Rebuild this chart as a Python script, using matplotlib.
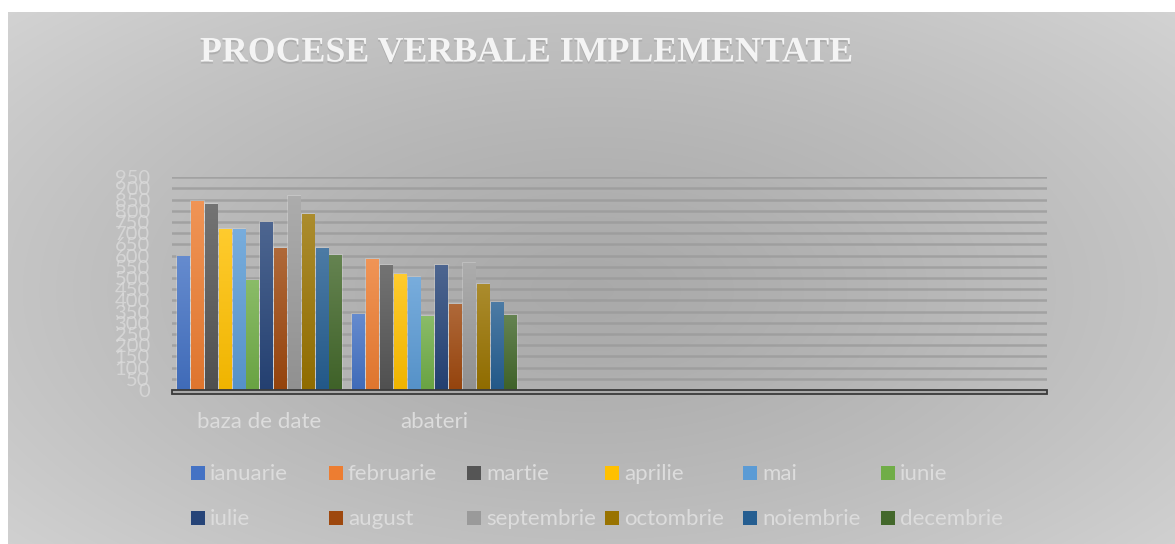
import numpy as np
import matplotlib
matplotlib.use('Agg')
from matplotlib import pyplot as plt
from matplotlib import colors as mcolors
from matplotlib.patches import Rectangle
import matplotlib.patheffects as pe

# date
categorii = ['baza de date', 'abateri', '', '', '']
luni = ['ianuarie', 'februarie', 'martie', 'aprilie', 'mai', 'iunie',
        'iulie', 'august', 'septembrie', 'octombrie', 'noiembrie', 'decembrie']
baza_de_date = [600, 845, 830, 720, 720, 490, 750, 635, 865, 785, 635, 603]
abateri = [340, 585, 560, 520, 505, 330, 560, 385, 567, 475, 393, 335]
y_ticks = list(range(0, 951, 50))

culori = ['#4472C4', '#ED7D31', '#555555', '#FFC000', '#5B9BD5', '#70AD47',
          '#264478', '#9E480E', '#9A9A9A', '#997300', '#255E91', '#43682B']

W, H = 1175, 544
plt.rcParams['font.family'] = ['Lato', 'DejaVu Sans']
fig = plt.figure(figsize=(W / 100, H / 100), dpi=100)
fig.patch.set_facecolor('white')

# fundal cu gradient radial
bg = fig.add_axes([0, 0, 1, 1], zorder=-10)
yy, xx = np.mgrid[0:H, 0:W]
r = np.sqrt(((xx - 590) / 640.0) ** 2 + ((yy - 290) / 330.0) ** 2) / np.sqrt(2)
g = 0.665 + 0.19 * np.clip(r, 0, 1) ** 1.3
img = np.dstack([g, g, g])
img[:12, :, :] = 1.0
img[:, :8, :] = 1.0
bg.imshow(img, aspect='auto', extent=(0, 1, 0, 1), origin='upper')
bg.set_xlim(0, 1)
bg.set_ylim(0, 1)
bg.axis('off')

ax = fig.add_axes([172 / W, 1 - 390 / H, (1047 - 172) / W, (390 - 177.3) / H])
ax.patch.set_alpha(0)

x = np.arange(len(categorii))
pitch = 0.079
bw = 0.071
serii = np.array([baza_de_date, abateri]).T  # luni x categorii


def amesteca(c, t, f):
    a = np.array(mcolors.to_rgb(c))
    b = np.array(mcolors.to_rgb(t))
    return a * (1 - f) + b * f


grad = np.linspace(0, 1, 64)[:, None, None]
for i, luna in enumerate(luni):
    valori = serii[i]
    xs = x[:len(valori)] + (i - 5.5) * pitch
    bars = ax.bar(xs, valori, width=bw, color=culori[i], label=luna, zorder=3,
                  edgecolor=(1, 1, 1, 0.25), linewidth=1.2)
    sus = amesteca(culori[i], 'white', 0.18)
    jos = amesteca(culori[i], 'black', 0.06)
    tex = sus[None, None, :] * (1 - grad) + jos[None, None, :] * grad
    for b in bars:
        x0, h = b.get_x(), b.get_height()
        im = ax.imshow(tex, extent=(x0, x0 + b.get_width(), 0, h), origin='upper',
                       aspect='auto', zorder=3.5)
        im.set_clip_path(b)

ax.set_xlim(-0.5, len(categorii) - 0.5)
ax.set_ylim(0, 950)

for t in y_ticks[1:]:
    ax.axhline(t, color='#999999', lw=1.8, alpha=0.75, zorder=1)

# podea
ax.add_patch(Rectangle((0, -0.019), 1, 0.019, transform=ax.transAxes, clip_on=False,
                       facecolor='#a9a9a9', edgecolor='#3a3a3a', lw=1.3, zorder=5))

for s in ax.spines.values():
    s.set_visible(False)

ax.set_yticks(y_ticks)
ax.set_yticklabels([str(v) for v in y_ticks], fontsize=14.5, color='#dcdcdc', alpha=0.75)
ax.tick_params(axis='y', length=0, pad=16)
ax.set_xticks(x[:2])
ax.set_xticklabels(categorii[:2], fontsize=16, color='#dcdcdc')
ax.tick_params(axis='x', length=0, pad=16)

# legenda
for i, luna in enumerate(luni):
    lx = 191 + (i % 6) * 138
    ly = 473 + (i // 6) * 45
    fig.patches.append(Rectangle((lx / W, 1 - (ly + 7) / H), 14 / W, 14 / H,
                                 transform=fig.transFigure, facecolor=culori[i],
                                 edgecolor='none'))
    fig.text((lx + 19) / W, 1 - (ly + 1) / H, luna, fontsize=16, color='#dcdcdc',
             va='center', ha='left')

fig.text(200 / W, 1 - 53 / H, 'PROCESE VERBALE IMPLEMENTATE', fontsize=25.8,
         family=['Liberation Serif'], weight='bold', color='#f4f4f4', va='center', ha='left',
         path_effects=[pe.withSimplePatchShadow(offset=(0, -1.5), shadow_rgbFace='#999999', alpha=0.5)])

fig.savefig('out.png', dpi=100)
